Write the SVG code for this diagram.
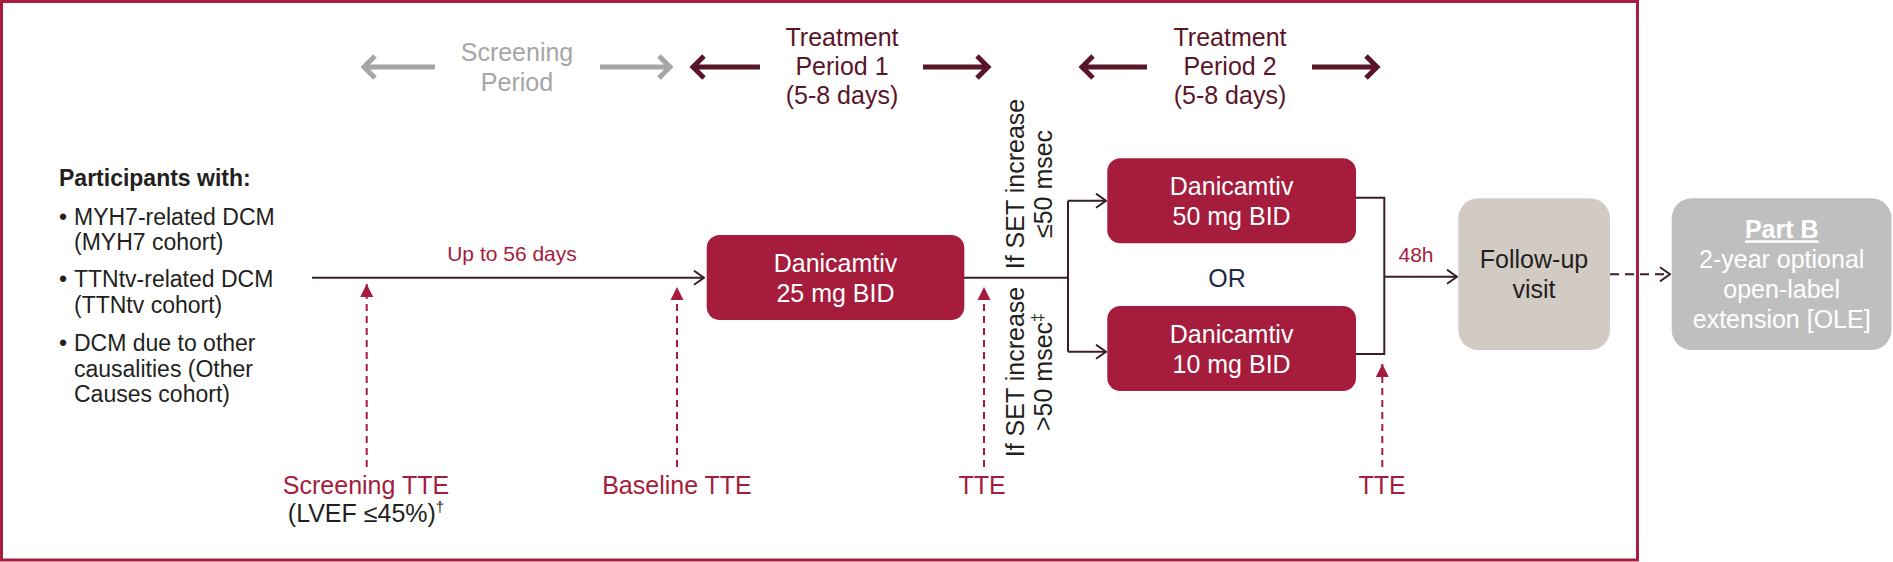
<svg xmlns="http://www.w3.org/2000/svg" width="1893" height="562" viewBox="0 0 1893 562">
<defs>
<style>
text{font-family:"Liberation Sans",Arial,sans-serif;}
.t25{font-size:25px;}
.body{font-size:23px;fill:#231f20;}
.red{fill:#a51c3d;}
.dark{fill:#231f20;}
.wht{fill:#ffffff;}
.mid{text-anchor:middle;}
.box{fill:#a51c3d;}
.conn{fill:none;stroke:#3a1e26;stroke-width:2;}
.tte{fill:none;stroke:#a51c3d;stroke-width:2;stroke-dasharray:7 5;}
.thick{fill:none;stroke:#5a1629;stroke-width:5;stroke-linejoin:miter;}
.thickg{fill:none;stroke:#a6a6a6;stroke-width:5;stroke-linejoin:miter;}
</style>
<marker id="open" markerUnits="userSpaceOnUse" viewBox="0 0 12 16" refX="11" refY="8" markerWidth="12" markerHeight="16" orient="auto">
<path d="M1,1 L11,8 L1,15" fill="none" stroke="#3a1e26" stroke-width="2"/>
</marker>
<marker id="tri" markerUnits="userSpaceOnUse" viewBox="0 0 14 14" refX="13" refY="7" markerWidth="14" markerHeight="14" orient="auto">
<path d="M0,0.5 L13,7 L0,13.5 Z" fill="#a51c3d"/>
</marker>
</defs>

<rect x="1.5" y="1.5" width="1636" height="558.5" fill="none" stroke="#a51d3f" stroke-width="3"/>

<g id="periods">
<path class="thickg" d="M435,67 H365 M375,56 L364,67 L375,78"/>
<path class="thickg" d="M600,67 H669 M659,56 L670,67 L659,78"/>
<text class="t25 mid" x="517" y="61" fill="#a6a6a6">Screening</text>
<text class="t25 mid" x="517" y="91" fill="#a6a6a6">Period</text>
<path class="thick" d="M760,67 H694 M704,56 L693,67 L704,78"/>
<path class="thick" d="M923,67 H987 M977,56 L988,67 L977,78"/>
<text class="t25 mid" x="842" y="46" fill="#5a1629">Treatment</text>
<text class="t25 mid" x="842" y="75" fill="#5a1629">Period 1</text>
<text class="t25 mid" x="842" y="104" fill="#5a1629">(5-8 days)</text>
<path class="thick" d="M1147,67 H1083 M1093,56 L1082,67 L1093,78"/>
<path class="thick" d="M1312,67 H1376 M1366,56 L1377,67 L1366,78"/>
<text class="t25 mid" x="1230" y="46" fill="#5a1629">Treatment</text>
<text class="t25 mid" x="1230" y="75" fill="#5a1629">Period 2</text>
<text class="t25 mid" x="1230" y="104" fill="#5a1629">(5-8 days)</text>
</g>

<g id="participants">
<text class="body" x="59" y="186" font-weight="bold">Participants with:</text>
<text class="body" x="59" y="225">•</text>
<text class="body" x="74" y="225">MYH7-related DCM</text>
<text class="body" x="74" y="250">(MYH7 cohort)</text>
<text class="body" x="59" y="287">•</text>
<text class="body" x="74" y="287">TTNtv-related DCM</text>
<text class="body" x="74" y="313">(TTNtv cohort)</text>
<text class="body" x="59" y="351">•</text>
<text class="body" x="74" y="351">DCM due to other</text>
<text class="body" x="74" y="377">causalities (Other</text>
<text class="body" x="74" y="402">Causes cohort)</text>
</g>

<g id="connectors">
<path class="conn" d="M312,277.7 H704" marker-end="url(#open)"/>
<path class="conn" d="M964,277.7 H1068"/>
<path class="conn" d="M1068,200.7 V351.7"/>
<path class="conn" d="M1068,200.7 H1106" marker-end="url(#open)"/>
<path class="conn" d="M1068,351.7 H1106" marker-end="url(#open)"/>
<path class="conn" d="M1356,197.7 H1384.3 V354 H1356"/>
<path class="conn" d="M1384.3,276.7 H1457" marker-end="url(#open)"/>
<path class="conn" d="M1610,274.3 H1670" stroke-dasharray="9 6" marker-end="url(#open)"/>
<path class="tte" d="M366.7,467 V284" marker-end="url(#tri)"/>
<path class="tte" d="M677,467 V287" marker-end="url(#tri)"/>
<path class="tte" d="M984,467 V287" marker-end="url(#tri)"/>
<path class="tte" d="M1382.3,467 V364" marker-end="url(#tri)"/>
</g>

<g id="labels">
<text class="red mid" x="512" y="261" font-size="21">Up to 56 days</text>
<text class="red mid" x="1416" y="262" font-size="21">48h</text>
<text class="t25 mid" x="1227" y="287" fill="#1f2a44">OR</text>
<g transform="translate(1024,184) rotate(-90)">
<text class="t25 mid dark" x="0" y="0">If SET increase</text>
<text class="t25 mid dark" x="0" y="28">≤50 msec</text>
</g>
<g transform="translate(1024,372) rotate(-90)">
<text class="t25 mid dark" x="0" y="0">If SET increase</text>
<text class="t25 mid dark" x="0" y="28">&gt;50 msec<tspan font-size="16" dy="-9">‡</tspan></text>
</g>
<text class="t25 mid red" x="366" y="494" font-size="24">Screening TTE</text>
<text class="t25 mid dark" x="366" y="522" font-size="24">(LVEF ≤45%)<tspan font-size="15" dy="-10">†</tspan></text>
<text class="t25 mid red" x="677" y="494" font-size="24">Baseline TTE</text>
<text class="t25 mid red" x="982" y="494" font-size="24">TTE</text>
<text class="t25 mid red" x="1382" y="494" font-size="24">TTE</text>
</g>

<g id="dose25">
<rect class="box" x="706.7" y="235" width="257.6" height="85" rx="13"/>
<text class="t25 mid wht" x="835.5" y="271.7">Danicamtiv</text>
<text class="t25 mid wht" x="835.5" y="301.7">25 mg BID</text>
</g>
<g id="dose50">
<rect class="box" x="1107.3" y="158.3" width="248.7" height="85" rx="13"/>
<text class="t25 mid wht" x="1231.6" y="195">Danicamtiv</text>
<text class="t25 mid wht" x="1231.6" y="225">50 mg BID</text>
</g>
<g id="dose10">
<rect class="box" x="1107.3" y="306" width="248.7" height="85" rx="13"/>
<text class="t25 mid wht" x="1231.6" y="342.7">Danicamtiv</text>
<text class="t25 mid wht" x="1231.6" y="372.7">10 mg BID</text>
</g>
<g id="followup">
<rect x="1458.3" y="198.3" width="151.7" height="151.7" rx="20" fill="#d1cbc4"/>
<text class="t25 mid dark" x="1534" y="268.3">Follow-up</text>
<text class="t25 mid dark" x="1534" y="298.3">visit</text>
</g>
<g id="partB">
<rect x="1671.7" y="198.3" width="219.8" height="151.7" rx="20" fill="#bfbfbf"/>
<text class="t25 mid wht" x="1781.7" y="238.3" font-weight="bold" text-decoration="underline">Part B</text>
<text class="t25 mid wht" x="1781.7" y="268.3">2-year optional</text>
<text class="t25 mid wht" x="1781.7" y="297.7">open-label</text>
<text class="t25 mid wht" x="1781.7" y="328.3">extension [OLE]</text>
</g>
</svg>
